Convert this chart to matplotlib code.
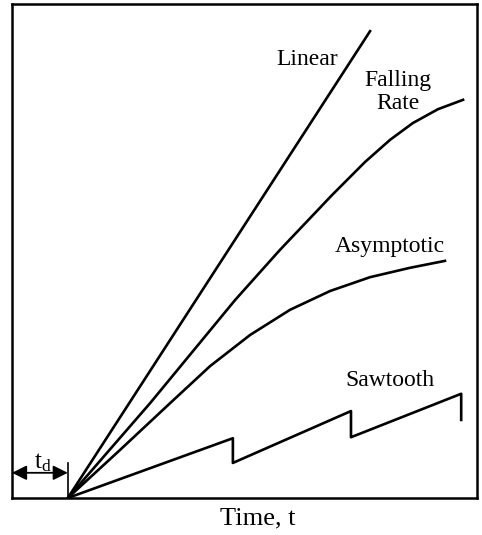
import numpy as np
import matplotlib
matplotlib.use("Agg")
import matplotlib.pyplot as plt

plt.rcParams['font.family'] = ['Liberation Serif', 'DejaVu Serif']
plt.rcParams['mathtext.fontset'] = 'stix'

# time delay before release starts
t_d = 1.2

# release profiles (time, amount released)
linear_t = [1.20, 7.70]
linear_y = [0.00, 9.45]

falling_t = [1.20, 2.97, 4.80, 5.76, 6.88, 7.59, 8.13, 8.62, 9.16, 9.70]
falling_y = [0.00, 1.92, 4.01, 5.02, 6.13, 6.80, 7.25, 7.59, 7.87, 8.06]

asym_t = [1.20, 2.32, 3.40, 4.26, 5.12, 5.98, 6.84, 7.70, 8.56, 9.31]
asym_y = [0.00, 0.97, 1.92, 2.67, 3.30, 3.81, 4.19, 4.47, 4.66, 4.80]

saw_t = [1.20, 4.75, 4.75, 7.29, 7.29, 9.66, 9.66]
saw_y = [0.00, 1.21, 0.71, 1.76, 1.23, 2.11, 1.58]

fig = plt.figure(figsize=(4.82, 5.35), dpi=100)
ax = fig.add_axes([12/482, 37/535, 465/482, 494/535])

lw = 1.9
for t, y in [(linear_t, linear_y), (falling_t, falling_y),
             (asym_t, asym_y), (saw_t, saw_y)]:
    ax.plot(t, y, color='black', lw=lw, solid_joinstyle='round')

ax.text(6.34, 8.87, 'Linear', fontsize=17, ha='center', va='center')
ax.text(8.30, 8.22, 'Falling\nRate', fontsize=17, ha='center', va='center',
        linespacing=1.1)
ax.text(8.13, 5.10, 'Asymptotic', fontsize=17, ha='center', va='center')
ax.text(8.13, 2.37, 'Sawtooth', fontsize=17, ha='center', va='center')

# t_d marker
ax.plot([t_d, t_d], [0, 0.71], color='black', lw=1.2)
ax.annotate('', xy=(0.0, 0.51), xytext=(t_d, 0.51),
            arrowprops=dict(arrowstyle='<|-|>', color='black', lw=1.3,
                            mutation_scale=22, shrinkA=0, shrinkB=0))
ax.text(0.66, 0.72, r'$\mathregular{t_{d}}$', fontsize=18, ha='center', va='center')

ax.set_xlim(0, 10)
ax.set_ylim(0, 10)
ax.set_xticks([])
ax.set_yticks([])
for s in ax.spines.values():
    s.set_linewidth(1.8)

fig.text(258/482, 1 - 518/535, 'Time, t', fontsize=19, ha='center', va='center')

fig.savefig('out.png', dpi=100)
